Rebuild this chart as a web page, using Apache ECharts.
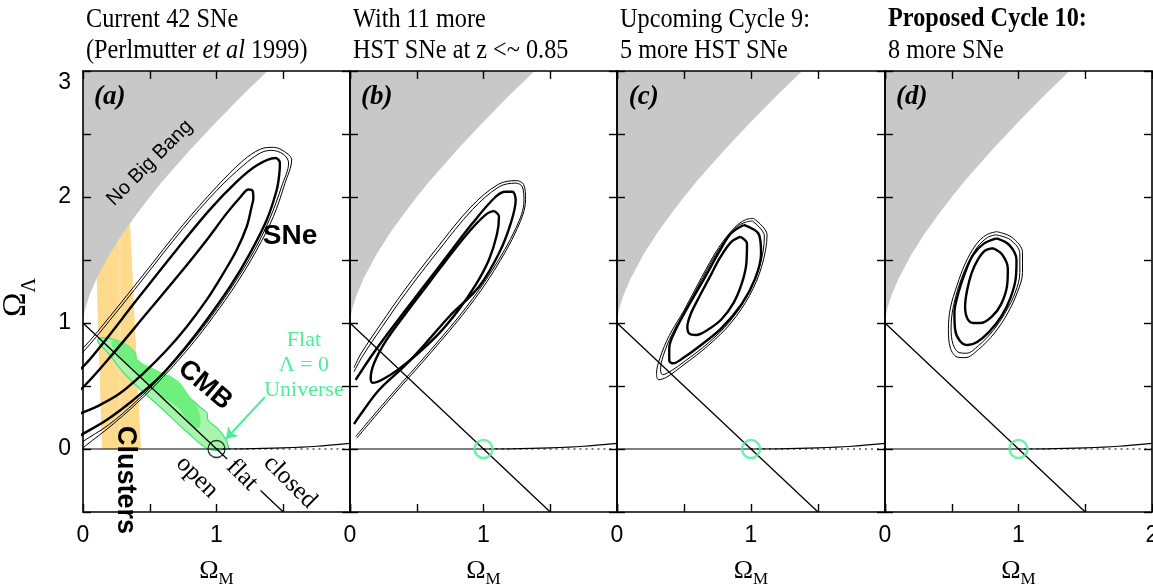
<!DOCTYPE html>
<html><head><meta charset="utf-8">
<script src="https://cdn.jsdelivr.net/npm/echarts@6/dist/echarts.min.js"></script>
<style>html,body{margin:0;padding:0;background:#fff}#c{width:1153px;height:586px}</style>
</head><body><div id="c"></div><script>
// ---------------- data ----------------
const panelLetters = ['(a)', '(b)', '(c)', '(d)'];
const titleLine1 = ['Current 42 SNe', 'With 11 more', 'Upcoming Cycle 9:', '{b|Proposed Cycle 10:}'];
const titleLine2 = ['(Perlmutter {i|et al} 1999)', 'HST SNe at z <~ 0.85', '5 more HST SNe', '8 more SNe'];
const xTickLabels = [0, 1, 2];
const yTickLabels = [0, 1, 2, 3];

// "No Big Bang" boundary (Omega_M, Omega_Lambda)
const bigBangM = [0, 0.003, 0.01, 0.02, 0.05, 0.1, 0.2, 0.3, 0.4, 0.5, 0.6, 0.8, 1.0, 1.2, 1.4];
const bigBangL = [1.0, 1.036, 1.08, 1.125, 1.224, 1.35, 1.548, 1.714, 1.862, 2.0, 2.13, 2.372, 2.598, 2.813, 3.018];
// flat universe line
const flatM = [0, 1.5];
const flatL = [1, -0.5];
// panel (a) flat line is interrupted by the "flat" label
const flatA1M = [0, 1.08], flatA1L = [1, -0.08];
const flatA2M = [1.33, 1.5], flatA2L = [-0.33, -0.5];
// expand forever / recollapse boundary
const recollM = [0, 1.0, 1.2, 1.5, 1.75, 2.0];
const recollL = [0, 0, 0.001, 0.009, 0.022, 0.045];
// Lambda = 0 (dotted) beyond Omega_M = 1
const lam0M = [1, 2];
const lam0L = [0, 0];
// flat Lambda=0 universe marker
const markerPoint = [1, 0];

// clusters band
const clustersBand = [[0.142, 0], [0.085, 1.95], [0.345, 1.95], [0.434, 0]];
const clustersStripe = [[0.277, 0], [0.277, 1.95]];
// CMB region
const cmbOuter = [[0.112, 0.87], [0.127, 0.881], [0.225, 0.873], [0.33, 0.825], [0.39, 0.762], [0.412, 0.667], [0.487, 0.627], [0.577, 0.587], [0.674, 0.484], [0.801, 0.405], [0.876, 0.333], [0.929, 0.286], [0.936, 0.23], [1.004, 0.167], [1.064, 0.087], [1.086, 0.032], [1.086, 0.0], [0.936, 0.0], [0.779, 0.135], [0.577, 0.333], [0.427, 0.476], [0.30, 0.611], [0.187, 0.762], [0.112, 0.849]];
const cmbInner = [[0.227, 0.865], [0.352, 0.812], [0.414, 0.706], [0.552, 0.627], [0.702, 0.548], [0.801, 0.415], [0.864, 0.31], [0.876, 0.177], [0.826, 0.177], [0.702, 0.336], [0.552, 0.442], [0.402, 0.601], [0.277, 0.733], [0.215, 0.825]];

// SNe confidence contours (68%, 90% thick; 95%, 99% thin)
const snA68 = [[-0.1, 0.42], [0, 0.49], [0.227, 0.759], [0.477, 1.077], [0.727, 1.394], [0.927, 1.659], [1.076, 1.87], [1.18, 2.0], [1.24, 2.06], [1.27, 2.05], [1.276, 1.99], [1.263, 1.923], [1.226, 1.764], [1.151, 1.579], [1.051, 1.394], [0.926, 1.183], [0.777, 0.971], [0.627, 0.786], [0.452, 0.601], [0.277, 0.442], [0.102, 0.336], [0, 0.29], [-0.1, 0.25]];
const snA90 = [[-0.1, 0.58], [0, 0.653], [0.15, 0.84], [0.4, 1.18], [0.7, 1.58], [0.95, 1.9], [1.15, 2.12], [1.3, 2.25], [1.44, 2.31], [1.475, 2.27], [1.47, 2.18], [1.451, 2.056], [1.376, 1.817], [1.251, 1.553], [1.101, 1.288], [0.926, 1.024], [0.752, 0.786], [0.577, 0.574], [0.377, 0.389], [0.177, 0.23], [0, 0.12], [-0.1, 0.06]];
const snA95 = [[-0.1, 0.68], [0, 0.77], [0.2, 1.02], [0.45, 1.35], [0.75, 1.75], [1.0, 2.05], [1.2, 2.25], [1.33, 2.35], [1.41, 2.37], [1.5, 2.34], [1.54, 2.27], [1.49, 2.09], [1.4, 1.83], [1.28, 1.57], [1.13, 1.31], [0.96, 1.05], [0.785, 0.815], [0.59, 0.58], [0.39, 0.37], [0.19, 0.19], [0, 0.06], [-0.1, -0.02]];
const snA99 = [[-0.1, 0.72], [0, 0.8], [0.2, 1.05], [0.45, 1.38], [0.75, 1.78], [1.0, 2.08], [1.2, 2.29], [1.33, 2.38], [1.426, 2.394], [1.51, 2.36], [1.563, 2.294], [1.513, 2.109], [1.426, 1.844], [1.301, 1.579], [1.151, 1.315], [0.976, 1.05], [0.801, 0.812], [0.602, 0.574], [0.402, 0.362], [0.202, 0.177], [0.027, 0.032], [-0.1, -0.08]];

const snB68 = [[1.08, 1.89], [1.116, 1.844], [1.1, 1.7], [1.04, 1.5], [0.94, 1.3], [0.81, 1.1], [0.66, 0.91], [0.5, 0.75], [0.36, 0.63], [0.24, 0.55], [0.17, 0.525], [0.155, 0.56], [0.18, 0.68], [0.27, 0.86], [0.42, 1.08], [0.6, 1.33], [0.78, 1.58], [0.93, 1.77], [1.03, 1.87], [1.08, 1.89]];
const snB90 = [[0.03, 0.198], [0.067, 0.256], [0.217, 0.468], [0.417, 0.667], [0.567, 0.839], [0.742, 1.05], [0.966, 1.288], [1.116, 1.553], [1.204, 1.791], [1.241, 1.976], [1.216, 2.042], [1.166, 2.042], [1.091, 2.002], [0.917, 1.791], [0.667, 1.447], [0.417, 1.103], [0.192, 0.786], [0.042, 0.548]];
const snB95 = [[0.042, 0.098], [0.3, 0.42], [0.6, 0.78], [0.867, 1.12], [1.066, 1.42], [1.241, 1.75], [1.303, 1.97], [1.291, 2.08], [1.241, 2.11], [1.116, 2.08], [0.917, 1.9], [0.667, 1.58], [0.417, 1.236], [0.242, 0.971], [0.092, 0.733], [0.03, 0.613]];
const snB99 = [[0.05, 0.085], [0.31, 0.41], [0.61, 0.77], [0.877, 1.11], [1.076, 1.41], [1.253, 1.75], [1.315, 1.98], [1.3, 2.1], [1.245, 2.13], [1.11, 2.1], [0.905, 1.92], [0.655, 1.6], [0.405, 1.256], [0.23, 0.991], [0.08, 0.753], [0.03, 0.645]];

const snC68 = [[0.921, 1.685], [0.97, 1.63], [0.965, 1.47], [0.93, 1.31], [0.87, 1.16], [0.78, 1.03], [0.675, 0.945], [0.59, 0.905], [0.54, 0.915], [0.525, 0.97], [0.55, 1.07], [0.61, 1.2], [0.69, 1.36], [0.77, 1.52], [0.85, 1.64], [0.921, 1.685]];
const snC90 = [[0.946, 1.778], [1.06, 1.7], [1.075, 1.55], [1.03, 1.35], [0.93, 1.15], [0.78, 0.96], [0.62, 0.82], [0.49, 0.72], [0.42, 0.68], [0.39, 0.7], [0.39, 0.8], [0.44, 0.95], [0.53, 1.13], [0.65, 1.35], [0.76, 1.56], [0.85, 1.71], [0.946, 1.778]];
const snC95 = [[1.01, 1.81], [1.1, 1.69], [1.065, 1.45], [0.975, 1.22], [0.84, 1.01], [0.68, 0.84], [0.51, 0.7], [0.39, 0.61], [0.34, 0.59], [0.325, 0.63], [0.345, 0.74], [0.41, 0.91], [0.51, 1.1], [0.64, 1.36], [0.77, 1.6], [0.89, 1.76], [0.96, 1.8], [1.01, 1.81]];
const snC99 = [[1.02, 1.83], [1.12, 1.7], [1.08, 1.45], [0.99, 1.22], [0.85, 1.0], [0.68, 0.82], [0.5, 0.67], [0.37, 0.57], [0.31, 0.55], [0.295, 0.6], [0.32, 0.72], [0.39, 0.9], [0.5, 1.1], [0.63, 1.36], [0.76, 1.6], [0.88, 1.76], [0.96, 1.82], [1.02, 1.83]];

const snD68 = [[0.811, 1.593], [0.88, 1.54], [0.92, 1.43], [0.915, 1.3], [0.87, 1.15], [0.8, 1.05], [0.72, 1.0], [0.66, 1.0], [0.615, 1.04], [0.6, 1.13], [0.615, 1.26], [0.65, 1.4], [0.7, 1.51], [0.75, 1.575], [0.811, 1.593]];
const snD90 = [[0.837, 1.672], [0.93, 1.62], [0.985, 1.5], [0.98, 1.36], [0.94, 1.2], [0.87, 1.05], [0.78, 0.93], [0.69, 0.85], [0.62, 0.825], [0.56, 0.86], [0.525, 0.95], [0.52, 1.08], [0.55, 1.24], [0.6, 1.4], [0.66, 1.54], [0.74, 1.63], [0.837, 1.672]];
const snD95 = [[0.83, 1.7], [0.94, 1.66], [1.01, 1.55], [1.01, 1.4], [0.975, 1.24], [0.905, 1.09], [0.81, 0.94], [0.7, 0.82], [0.61, 0.76], [0.555, 0.765], [0.51, 0.83], [0.495, 0.96], [0.51, 1.12], [0.555, 1.3], [0.615, 1.46], [0.69, 1.6], [0.77, 1.68], [0.83, 1.7]];
const snD99 = [[0.837, 1.725], [0.95, 1.68], [1.03, 1.56], [1.03, 1.4], [0.99, 1.24], [0.92, 1.08], [0.82, 0.92], [0.7, 0.79], [0.6, 0.725], [0.54, 0.73], [0.49, 0.8], [0.475, 0.95], [0.49, 1.12], [0.54, 1.3], [0.6, 1.47], [0.68, 1.62], [0.76, 1.7], [0.837, 1.725]];

const contourSets = [
  [snA68, snA90, snA95, snA99],
  [snB68, snB90, snB95, snB99],
  [snC68, snC90, snC95, snC99],
  [snD68, snD90, snD95, snD99]
];

// annotation texts (panel a) and their anchor points in data units
const annText = ['No Big Bang', 'SNe', 'CMB', 'Clusters', 'open', 'flat', 'closed', 'Flat\nΛ = 0\nUniverse'];
const annAt = [[0.5, 2.27], [1.551, 1.69], [0.914, 0.508], [0.315, -0.246], [0.854, -0.222], [1.191, -0.206], [1.551, -0.262], [1.655, 0.667]];
const arrowFrom = [1.363, 0.413];
const arrowTo = [1.071, 0.079];
const letterAt = [0.2, 2.79];

// ---------------- layout / style ----------------
const gridLeft = [83, 350, 617, 885];
const gridWidth = [267, 267, 268, 267];
const GTOP = 71, GH = 441;
const SANS = '"Liberation Sans", Arial, sans-serif';
const SERIF = '"Liberation Serif", "Times New Roman", serif';
const GREEN = '#4ded98';
const GRAY = '#c8c8c8';

const zip = (a, b) => a.map((v, i) => [v, b[i]]);

const grids = [], xAxes = [], yAxes = [], series = [], graphics = [];
const axLine = { show: true, onZero: false, lineStyle: { color: '#000', width: 1.6 } };
const axTick = { show: true, inside: true, length: 8, lineStyle: { color: '#000', width: 1.4 } };

for (let i = 0; i < 4; i++) {
  grids.push({ left: gridLeft[i], top: GTOP, width: gridWidth[i], height: GH, containLabel: false, outerBoundsMode: 'none' });
}
for (let i = 0; i < 4; i++) {
  xAxes.push({
    gridIndex: i, type: 'value', min: 0, max: 2, interval: 0.5, position: 'bottom', z: 20,
    axisLine: axLine, axisTick: axTick, splitLine: { show: false },
    axisLabel: {
      show: true, margin: 12, color: '#000', fontFamily: SANS, fontSize: 23, showMinLabel: true, showMaxLabel: true,
      formatter: v => (xTickLabels.indexOf(v) >= 0 && (v < 2 || i === 3)) ? String(v) : ''
    },
    name: '{o|Ω}{s|M}', nameLocation: 'middle', nameGap: 46,
    nameTextStyle: { rich: {
      o: { fontFamily: SERIF, fontSize: 26, lineHeight: 30, verticalAlign: 'top', color: '#000' },
      s: { fontFamily: SERIF, fontSize: 17, lineHeight: 16, verticalAlign: 'bottom', color: '#000' } } }
  });
}
for (let i = 0; i < 4; i++) {
  xAxes.push({
    gridIndex: i, type: 'value', min: 0, max: 2, interval: 0.5, position: 'top', z: 20,
    axisLine: axLine, axisTick: axTick, splitLine: { show: false }, axisLabel: { show: false }
  });
}
for (let i = 0; i < 4; i++) {
  const y = {
    gridIndex: i, type: 'value', min: -0.5, max: 3, interval: 0.5, position: 'left', z: 20,
    axisLine: axLine, axisTick: axTick, splitLine: { show: false },
    axisLabel: {
      show: i === 0, margin: 12, color: '#000', fontFamily: SANS, fontSize: 23, showMaxLabel: true,
      verticalAlignMaxLabel: 'top',
      formatter: v => yTickLabels.indexOf(v) >= 0 ? String(v) : ''
    }
  };
  if (i === 0) {
    Object.assign(y, {
      name: '{o|Ω}{s|Λ}', nameLocation: 'middle', nameGap: 43,
      nameTextStyle: { padding: [0, 12, 0, 0], rich: {
        o: { fontFamily: SERIF, fontSize: 33, lineHeight: 40, verticalAlign: 'top', color: '#000' },
        s: { fontFamily: SERIF, fontSize: 20, lineHeight: 20, verticalAlign: 'bottom', color: '#000' } } }
    });
  }
  yAxes.push(y);
}
for (let i = 0; i < 4; i++) {
  yAxes.push({
    gridIndex: i, type: 'value', min: -0.5, max: 3, interval: 0.5, position: 'right', z: 20,
    axisLine: axLine, axisTick: axTick, splitLine: { show: false }, axisLabel: { show: false }
  });
}

function polygon(panel, pts, style, z, smooth) {
  return {
    type: 'custom', xAxisIndex: panel, yAxisIndex: panel, clip: true, z: z, silent: true,
    data: [[0, 0]],
    renderItem: (params, api) => ({
      type: 'polygon',
      shape: { points: pts.map(p => api.coord(p)), smooth: smooth || 0 },
      style: style
    })
  };
}
function line(panel, pts, width, z, extra) {
  return Object.assign({
    type: 'line', xAxisIndex: panel, yAxisIndex: panel, data: pts, showSymbol: false, symbol: 'none',
    clip: true, z: z, silent: true, animation: false,
    lineStyle: { color: '#000', width: width }
  }, extra || {});
}
function textAt(panel, pos, text, lbl) {
  return {
    type: 'scatter', xAxisIndex: panel, yAxisIndex: panel, data: [pos], symbolSize: 1, silent: true, z: 15,
    itemStyle: { color: 'rgba(0,0,0,0)' }, clip: false,
    label: Object.assign({ show: true, position: 'inside', formatter: text, color: '#000',
      textBorderWidth: 0, textBorderColor: 'transparent', opacity: 1,
      align: 'center', verticalAlign: 'middle' }, lbl)
  };
}

const bigBangPoly = zip(bigBangM, bigBangL).concat([[1.5, 3.5], [-0.2, 3.5], [-0.2, 1.0]]);

for (let i = 0; i < 4; i++) {
  if (i === 0) {
    series.push(polygon(0, clustersBand, { fill: '#fdda8c' }, 1));
    series.push(line(0, clustersStripe, 1.2, 1, { lineStyle: { color: '#fee7b6', width: 1.2 } }));
  }
  series.push(polygon(i, bigBangPoly, { fill: GRAY }, 2));
  if (i === 0) {
    series.push(polygon(0, cmbOuter, { fill: '#a9f5ab', stroke: '#3fe383', lineWidth: 1.2 }, 3, 0.3));
    series.push(polygon(0, cmbInner, { fill: '#6eef7e' }, 3, 0.4));
  }
  // contours
  const sets = contourSets[i];
  const widths = [2.4, 2.4, 1.0, 1.0];
  sets.forEach((pts, k) => series.push(line(i, pts, widths[k], 4, { smooth: 0.35 })));
  // cosmology lines
  if (i === 0) {
    series.push(line(0, zip(flatA1M, flatA1L), 1.3, 5));
    series.push(line(0, zip(flatA2M, flatA2L), 1.3, 5));
  } else {
    series.push(line(i, zip(flatM, flatL), 1.3, 5));
  }
  series.push(line(i, zip(recollM, recollL), 1.2, 5, { smooth: 0.3 }));
  series.push(line(i, zip(lam0M, lam0L), 1.2, 5, { lineStyle: { color: '#000', width: 1.2, type: [2, 4] } }));
  // marker circle
  series.push({
    type: 'scatter', xAxisIndex: i, yAxisIndex: i, data: [markerPoint], symbol: 'circle', silent: true, z: 6,
    symbolSize: i === 0 ? 17 : 18,
    itemStyle: { color: 'rgba(0,0,0,0)', borderColor: i === 0 ? '#000' : GREEN, borderWidth: i === 0 ? 1.3 : 2.6 }
  });
  // panel letter
  series.push(textAt(i, letterAt, panelLetters[i], { fontFamily: SERIF, fontSize: 27, fontWeight: 'bold', fontStyle: 'italic' }));
  // titles (slightly tall serif text, like the original figure)
  graphics.push({
    type: 'text', x: gridLeft[i] + 3, y: 4, scaleX: 0.97, scaleY: 1.07, silent: true, z: 30,
    style: {
      text: titleLine1[i] + '\n' + titleLine2[i], fill: '#000', align: 'left', verticalAlign: 'top',
      fontFamily: SERIF, fontSize: 25, lineHeight: 29,
      rich: { i: { fontFamily: SERIF, fontSize: 25, fontStyle: 'italic', lineHeight: 29, fill: '#000' },
              b: { fontFamily: SERIF, fontSize: 25, fontWeight: 'bold', lineHeight: 29, fill: '#000' } }
    }
  });
}

// panel (a) annotations
series.push(textAt(0, annAt[0], annText[0], { rotate: 45, fontFamily: SANS, fontSize: 20 }));
series.push(textAt(0, annAt[1], annText[1], { fontFamily: SANS, fontSize: 28, fontWeight: 'bold' }));
series.push(textAt(0, annAt[2], annText[2], { rotate: -40, fontFamily: SANS, fontSize: 27, fontWeight: 'bold' }));
series.push(textAt(0, annAt[3], annText[3], { rotate: -90, fontFamily: SANS, fontSize: 27, fontWeight: 'bold' }));
series.push(textAt(0, annAt[4], annText[4], { rotate: -45, fontFamily: SERIF, fontSize: 25 }));
series.push(textAt(0, annAt[5], annText[5], { rotate: -45, fontFamily: SERIF, fontSize: 25 }));
series.push(textAt(0, annAt[6], annText[6], { rotate: -45, fontFamily: SERIF, fontSize: 25 }));
series.push(textAt(0, annAt[7], annText[7], { fontFamily: SERIF, fontSize: 22, lineHeight: 25, color: GREEN }));
series.push({
  type: 'lines', coordinateSystem: 'cartesian2d', xAxisIndex: 0, yAxisIndex: 0, z: 7, silent: true,
  symbol: ['none', 'arrow'], symbolSize: 11,
  lineStyle: { color: GREEN, width: 2, opacity: 1 },
  data: [{ coords: [arrowFrom, arrowTo] }]
});

const chart = echarts.init(document.getElementById('c'), null, { renderer: 'canvas' });
chart.setOption({
  animation: false,
  backgroundColor: '#fff',
  graphic: graphics,
  grid: grids,
  xAxis: xAxes,
  yAxis: yAxes,
  series: series
});
</script></body></html>
